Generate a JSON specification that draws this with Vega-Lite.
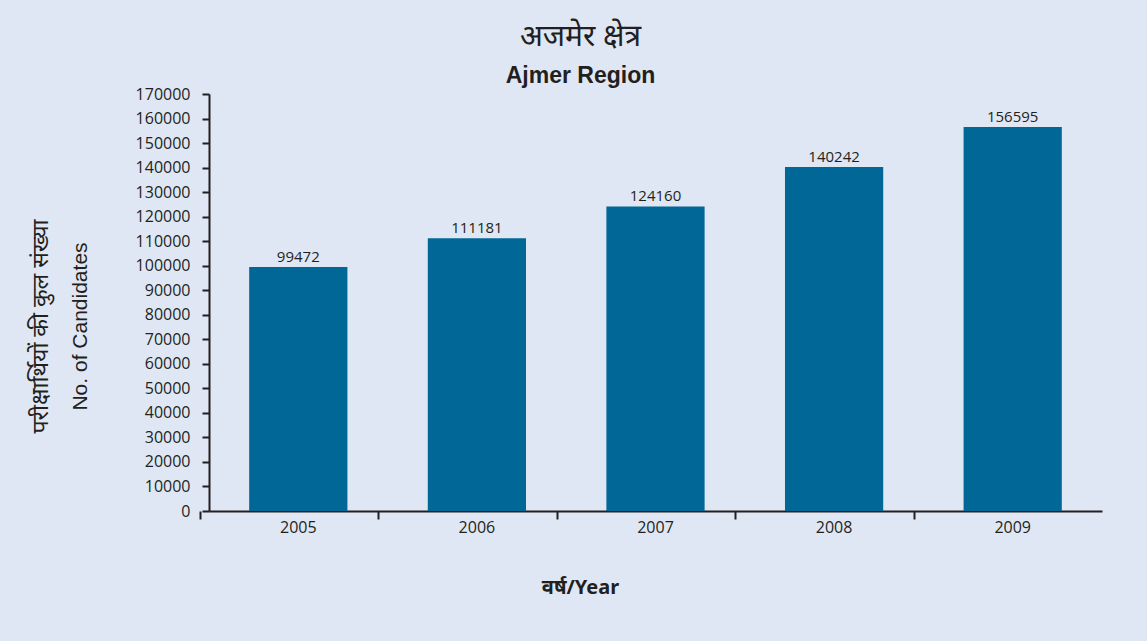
{
  "$schema": "https://vega.github.io/schema/vega-lite/v6.json",
  "width": 893,
  "height": 417,
  "autosize": "none",
  "padding": {"left": 209, "top": 94, "right": 45, "bottom": 130},
  "background": "#e0e7f4",
  "title": {
    "text": "अजमेर क्षेत्र",
    "subtitle": "Ajmer Region",
    "anchor": "middle",
    "dx": -75,
    "offset": -2,
    "font": "Noto Sans",
    "fontSize": 30,
    "fontWeight": "normal",
    "color": "#231f20",
    "subtitleFont": "Liberation Sans",
    "subtitleFontSize": 23,
    "subtitleFontWeight": "bold",
    "subtitleColor": "#231f20",
    "subtitlePadding": 13
  },
  "config": {
    "view": {"stroke": null},
    "axis": {
      "labelFont": "Open Sans",
      "labelFontSize": 16,
      "labelColor": "#231f20",
      "domainColor": "#231f20",
      "domainWidth": 2,
      "tickColor": "#231f20",
      "tickWidth": 2,
      "grid": false
    }
  },
  "data": {
    "values": [
      {"year": "2005", "count": 99472},
      {"year": "2006", "count": 111181},
      {"year": "2007", "count": 124160},
      {"year": "2008", "count": 140242},
      {"year": "2009", "count": 156595}
    ]
  },
  "encoding": {
    "x": {
      "field": "year",
      "type": "ordinal",
      "scale": {"paddingInner": 0.45, "paddingOuter": 0.225},
      "axis": {
        "labelAngle": 0,
        "labelFontSize": 16,
        "labelPadding": 0,
        "tickSize": 8,
        "bandPosition": -0.5,
        "title": "वर्ष/Year",
        "titleFont": "Noto Sans",
        "titleFontSize": 20,
        "titleFontWeight": "bold",
        "titleColor": "#231f20",
        "titleX": 371,
        "titleY": 76,
        "titleBaseline": "middle",
        "titleAlign": "center"
      }
    }
  },
  "resolve": {"axis": {"y": "independent"}},
  "layer": [
    {
      "mark": {"type": "bar", "color": "#006797"},
      "encoding": {
        "y": {
          "field": "count",
          "type": "quantitative",
          "scale": {"domain": [0, 170000], "nice": false},
          "axis": {
            "values": [0, 10000, 20000, 30000, 40000, 50000, 60000, 70000, 80000, 90000, 100000, 110000, 120000, 130000, 140000, 150000, 160000, 170000],
            "format": "d",
            "labelFontSize": 16,
            "tickSize": 7,
            "labelPadding": 12,
            "title": "No. of Candidates",
            "titleFont": "Liberation Sans",
            "titleFontSize": 21,
            "titleFontWeight": "normal",
            "titleColor": "#231f20",
            "titleAngle": -90,
            "titleX": -129,
            "titleY": 232,
            "titleAlign": "center",
            "titleBaseline": "middle"
          }
        }
      }
    },
    {
      "mark": {"type": "text", "baseline": "bottom", "dy": -2, "font": "Open Sans", "fontSize": 15, "color": "#231f20"},
      "encoding": {
        "y": {
          "field": "count",
          "type": "quantitative",
          "axis": {
            "orient": "left",
            "labels": false,
            "ticks": false,
            "domain": false,
            "title": "परीक्षार्थियों की कुल संख्या",
            "titleFont": "Noto Sans",
            "titleFontSize": 23,
            "titleFontWeight": "normal",
            "titleColor": "#231f20",
            "titleAngle": -90,
            "titleX": -169,
            "titleY": 232,
            "titleAlign": "center",
            "titleBaseline": "middle"
          }
        },
        "text": {"field": "count", "type": "quantitative", "format": "d"}
      }
    }
  ]
}
